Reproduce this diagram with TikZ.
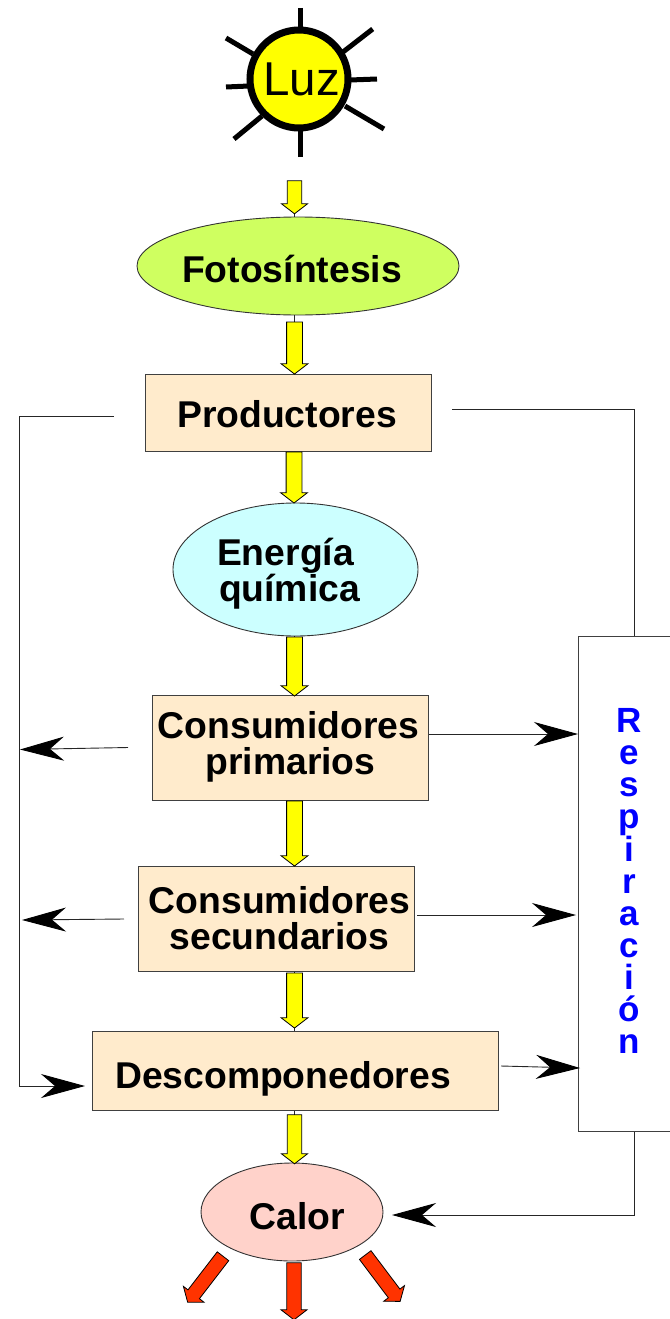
\documentclass[tikz,border=0pt]{standalone}
\usepackage{fontspec}
\setmainfont{Liberation Sans}
\usetikzlibrary{shapes.geometric,shapes.arrows,arrows.meta,calc}
\definecolor{boxfill}{HTML}{FFEBCC}
\definecolor{fotofill}{HTML}{CFFF60}
\definecolor{enerfill}{HTML}{CCFFFF}
\definecolor{calorfill}{HTML}{FFD2CA}
\definecolor{redarrow}{HTML}{FF3300}
\definecolor{sunyellow}{HTML}{FFFF00}
\definecolor{textblue}{HTML}{0000FF}
\tikzset{
  x=1pt,y=-1pt,
  boxnode/.style={draw=black!75,line width=0.9pt,fill=boxfill,rectangle,inner sep=0,anchor=north west},
  ellnode/.style={draw=black!80,line width=0.9pt,ellipse,inner sep=0},
  lab/.style={font=\fontsize{37.3}{36}\selectfont\bfseries,align=center,inner sep=0,text=black},
  blockarrow/.style={single arrow,draw=black,line width=0.8pt,inner xsep=0pt,inner ysep=6.5pt,
     single arrow head extend=5.5pt,single arrow tip angle=105,minimum width=26pt,anchor=center},
  yarrow/.style={blockarrow,fill=sunyellow,rotate=-90},
  rarrow/.style={blockarrow,fill=redarrow},
  thin line/.style={draw=black!85,line width=0.8pt},
  conn/.style={draw=black!85,line width=0.9pt,-{Stealth[length=44pt,width=24pt,inset=14pt,color=black,fill=black]}},
  ray/.style={draw=black,line width=5pt},
}
\begin{document}
\begin{tikzpicture}
\useasboundingbox (0,0) rectangle (669,1319);
% sun rays
\draw[ray] (300,8) -- (300,30);
\draw[ray] (372.7,29) -- (343,52);
\draw[ray] (377,79) -- (350,80);
\draw[ray] (384,129) -- (345,106);
\draw[ray] (300,157) -- (300,130);
\draw[ray] (234,139) -- (262,116);
\draw[ray] (226,87) -- (249,86);
\draw[ray] (226,38) -- (253,54);
\node[circle,draw=black,line width=7pt,fill=sunyellow,minimum size=98pt,inner sep=0] (sun) at (299,79) {};
\node[font=\fontsize{47.5}{47.5}\selectfont,inner sep=0,anchor=base] (luz) at (301.5,96) {Luz};
% main nodes
\node[ellnode,fill=fotofill,minimum width=322pt,minimum height=98pt] (foto) at (298,266) {};
\node[boxnode,minimum width=286pt,minimum height=77pt] (prod) at (145,374) {};
\node[ellnode,fill=enerfill,minimum width=245pt,minimum height=133pt] (ener) at (295.5,569.5) {};
\node[boxnode,minimum width=276pt,minimum height=105pt] (cpri) at (152,695) {};
\node[boxnode,minimum width=276pt,minimum height=105pt] (csec) at (138,866) {};
\node[boxnode,minimum width=406pt,minimum height=79pt] (desc) at (92,1031) {};
\node[ellnode,fill=calorfill,minimum width=182pt,minimum height=98pt] (calor) at (292,1212) {};
\node[boxnode,fill=white,minimum width=100pt,minimum height=495pt] (resp) at (578,636) {};
% labels
\node[lab,anchor=base] (tfoto) at (292,282) {Fotosíntesis};
\node[lab,anchor=base] (tprod) at (287,427) {Productores};
\node[lab] (tener) at (287,573.5) {Energía\hspace*{3pt}\\ \hspace*{5pt}química};
\node[lab] (tcpri) at (288.5,746.5) {Consumidores\\\hspace*{4pt}primarios};
\node[lab] (tcsec) at (279.5,918) {Consumidores\\secundarios};
\node[lab,anchor=base] (tdesc) at (283,1088) {Descomponedores};
\node[lab,anchor=base] (tcalor) at (297,1229) {Calor};
\node[font=\fontsize{35}{32}\selectfont\bfseries,text=textblue,align=center,inner sep=0] (tresp) at (629,881)
  {R\\e\\s\\p\\i\\r\\a\\c\\i\\ó\\n};
% thin lines under the block arrows
\coordinate (a1) at (294.5,194.5);
\coordinate (a2) at (294.5,345);
\coordinate (a3) at (294,474.5);
\coordinate (a4) at (294.5,663.5);
\coordinate (a5) at (294.5,830.5);
\coordinate (a6) at (294.5,997.5);
\coordinate (a7) at (294.5,1136.5);
\draw[thin line] (a1) -- (a1 |- foto.north);
\draw[thin line] (a2 |- foto.south) -- (a2 |- prod.north);
\draw[thin line] (a3 |- prod.south) -- (a3 |- ener.north);
\draw[thin line] (a4 |- ener.south) -- (a4 |- cpri.north);
\draw[thin line] (a5 |- cpri.south) -- (a5 |- csec.north);
\draw[thin line] (a6 |- csec.south) -- (a6 |- desc.north);
\draw[thin line] (a7 |- desc.south) -- (a7 |- calor.north);
% yellow block arrows
\node[yarrow,minimum height=33pt] (y1) at (a1) {};
\node[yarrow,minimum height=52pt,inner ysep=7.5pt] (y2) at (a2) {};
\node[yarrow,minimum height=51pt,inner ysep=7.5pt] (y3) at (a3) {};
\node[yarrow,minimum height=59pt,inner ysep=7.5pt] (y4) at (a4) {};
\node[yarrow,minimum height=65pt,inner ysep=7.5pt] (y5) at (a5) {};
\node[yarrow,minimum height=55pt,inner ysep=7.5pt] (y6) at (a6) {};
\node[yarrow,minimum height=49pt] (y7) at (a7) {};
% red block arrows
\node[rarrow,minimum height=58pt,rotate=232.4] (r1) at (207,1277) {};
\node[rarrow,minimum height=57pt,rotate=-90] (r2) at (294,1288.5) {};
\node[rarrow,minimum height=58pt,rotate=-53] (r3) at (381,1276) {};
% left bus
\coordinate (pl) at (114,416);
\coordinate (bl) at (19,416);
\coordinate (bb) at (19,1086);
\coordinate (dl) at (85,1086);
\draw[conn] (pl) -- (bl) -- (bb) -- (dl);
\coordinate (c1s) at (128,747.5);
\coordinate (c1t) at (20,749.5);
\draw[conn] (c1s) -- (c1t);
\coordinate (c2s) at (124,919);
\coordinate (c2t) at (22,920);
\draw[conn] (c2s) -- (c2t);
% right side
\coordinate (pr) at (452,409);
\coordinate (rt) at (634,409);
\draw[thin line] (pr) -- (rt) -- (rt |- resp.north);
\coordinate (r1s) at (429,734);
\draw[conn] (r1s) -- (r1s -| resp.west);
\coordinate (r2s) at (417,915);
\coordinate (r2t) at (576,915);
\draw[conn] (r2s) -- (r2t);
\coordinate (r3s) at (501,1066);
\coordinate (r3t) at (580,1068);
\draw[conn] (r3s) -- (r3t);
\coordinate (rb) at (634,1215);
\coordinate (ct) at (392,1215);
\draw[conn] (rt |- resp.south) -- (rb) -- (ct);
\end{tikzpicture}
\end{document}
